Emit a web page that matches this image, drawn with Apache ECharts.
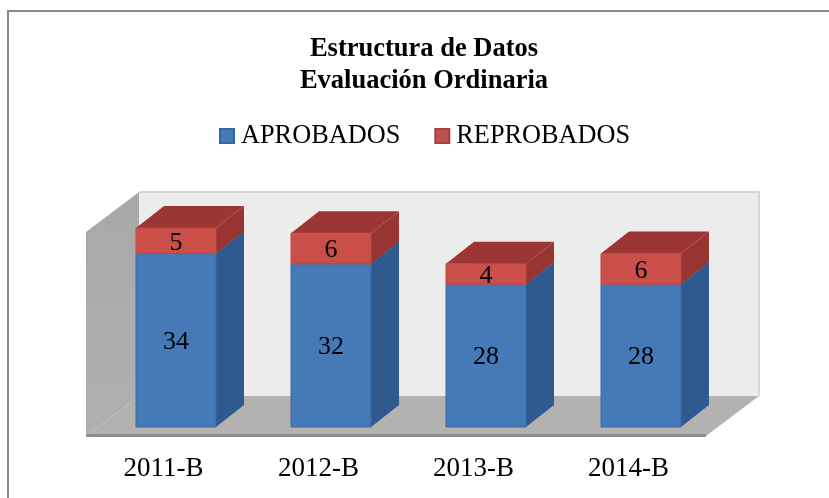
<!DOCTYPE html>
<html>
<head>
<meta charset="utf-8">
<style>
  html, body { margin: 0; padding: 0; background: #fff; }
  #chart { width: 829px; height: 498px; }
</style>
<script src="https://cdn.jsdelivr.net/npm/echarts@6/dist/echarts.min.js"></script>
</head>
<body>
<div id="chart"></div>
<script>
const categories = ['2011-B', '2012-B', '2013-B', '2014-B'];
const aprobados = [34, 32, 28, 28];
const reprobados = [5, 6, 4, 6];

const serifFont = '"Liberation Serif", "Times New Roman", serif';

// caja 3D: profundidad total de la pared y profundidad de cada barra
const boxDepth = [53, 40];
const barDepth = [28, 22];
const barShift = [12.5, -9];
const barWidth = 80;

function poly(points, fill, z2) {
  return { type: 'polygon', z2: z2 || 0, shape: { points: points }, style: { fill: fill } };
}

// pared lateral, pared de fondo y piso
function renderBox(params) {
  const c = params.coordSys;
  const l = c.x, t = c.y, r = c.x + c.width, b = c.y + c.height;
  const dx = boxDepth[0], dy = boxDepth[1];
  return {
    type: 'group',
    silent: true,
    children: [
      poly([[l + dx, t - dy], [r + dx, t - dy], [r + dx, b - dy], [l + dx, b - dy]], '#ececec'),
      {
        type: 'polyline',
        shape: { points: [[l + dx, t - dy], [r + dx, t - dy], [r + dx, b - dy]] },
        style: { stroke: '#cbcbcb', lineWidth: 1.5, fill: 'none' }
      },
      poly([[l, t], [l + dx, t - dy], [l + dx, b - dy], [l, b]], {
        type: 'linear', x: 0, y: 0, x2: 0, y2: 1,
        colorStops: [{ offset: 0, color: '#a8a8a8' }, { offset: 1, color: '#b0b0b0' }]
      }),
      poly([[l, b], [l + dx, b - dy], [r + dx, b - dy], [r, b]], '#b3b2b0'),
      {
        type: 'line',
        shape: { x1: l, y1: b - 0.5, x2: r, y2: b - 0.5 },
        style: { stroke: '#8e8e8e', lineWidth: 3 }
      }
    ]
  };
}

function barRenderer(front, side, top, edge) {
  return function (params, api) {
    const i = api.value(0);
    const p0 = api.coord([i, api.value(1)]);
    const p1 = api.coord([i, api.value(2)]);
    const xl = p0[0] + barShift[0] - barWidth / 2;
    const xr = xl + barWidth;
    const yb = p0[1] + barShift[1];
    const yt = p1[1] + barShift[1];
    const dx = barDepth[0], dy = barDepth[1];
    return {
      type: 'group',
      children: [
        poly([[xr, yb], [xr + dx, yb - dy], [xr + dx, yt - dy], [xr, yt]], side),
        poly([[xl, yt], [xl + dx, yt - dy], [xr + dx, yt - dy], [xr, yt]], top),
        {
          type: 'rect',
          shape: { x: xl, y: yt, width: barWidth, height: yb - yt },
          style: { fill: front, stroke: edge, lineWidth: 1 }
        },
        {
          type: 'text',
          z2: 5,
          style: {
            x: (xl + xr) / 2,
            y: (yt + yb) / 2 + 2,
            text: String(api.value(2) - api.value(1)),
            fill: '#000',
            font: '26px ' + serifFont,
            align: 'center',
            verticalAlign: 'middle'
          }
        }
      ]
    };
  };
}

const chart = echarts.init(document.getElementById('chart'));
chart.setOption({
  animation: false,
  backgroundColor: '#fff',
  title: {
    text: 'Estructura de Datos\nEvaluación Ordinaria',
    left: 419,
    top: 28,
    textAlign: 'center',
    textStyle: {
      fontFamily: serifFont,
      fontWeight: 'bold',
      fontSize: 26.5,
      lineHeight: 32,
      color: '#000'
    }
  },
  legend: {
    left: 214,
    top: 118,
    data: ['APROBADOS', 'REPROBADOS'],
    icon: 'rect',
    itemWidth: 14,
    itemHeight: 14,
    itemGap: 34,
    textStyle: { fontFamily: serifFont, fontSize: 26.3, color: '#000', padding: [0, 0, 0, 2] }
  },
  grid: { left: 86, top: 232, width: 620, height: 204 },
  xAxis: {
    type: 'category',
    data: categories,
    axisLine: { show: false },
    axisTick: { show: false },
    axisLabel: { fontFamily: serifFont, fontSize: 27, color: '#000', margin: 19 }
  },
  yAxis: { type: 'value', min: 0, max: 40, show: false },
  series: [
    {
      type: 'custom',
      silent: true,
      z: 1,
      data: [[0]],
      clip: false,
      renderItem: renderBox
    },
    {
      name: 'APROBADOS',
      type: 'custom',
      z: 2,
      itemStyle: { color: '#4579b8', borderColor: '#35659f', borderWidth: 1 },
      encode: { x: 0, y: 2 },
      data: aprobados.map((v, i) => [i, 0, v]),
      renderItem: barRenderer('#4579b8', '#2f5a8f', '#2f5a8f', '#3a6ba6')
    },
    {
      name: 'REPROBADOS',
      type: 'custom',
      z: 3,
      itemStyle: { color: '#c0504d', borderColor: '#a5413e', borderWidth: 1 },
      encode: { x: 0, y: 2 },
      data: reprobados.map((v, i) => [i, aprobados[i], aprobados[i] + v]),
      renderItem: barRenderer('#cb4f49', '#983431', '#9b3634', '#bf4843')
    }
  ],
  graphic: [
    {
      type: 'polyline',
      shape: { points: [[8, 498], [8, 11], [829, 11]] },
      style: { stroke: '#8a8a8a', lineWidth: 2, fill: 'none' }
    }
  ]
});
window.addEventListener('resize', () => chart.resize());
</script>
</body>
</html>
